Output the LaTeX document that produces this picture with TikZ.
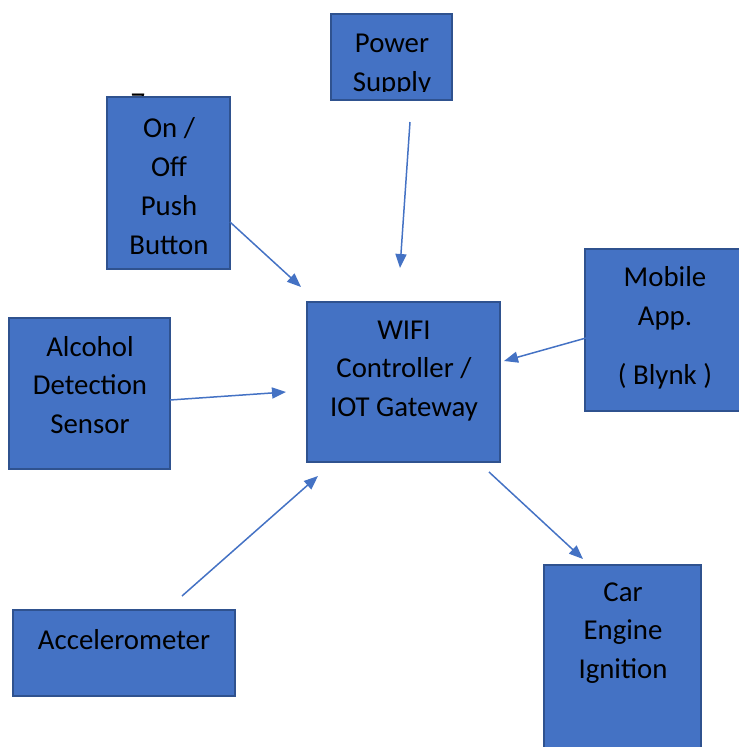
\documentclass[tikz,border=0pt]{standalone}
\usepackage{fontspec}
\setmainfont{Carlito}
\usetikzlibrary{positioning,arrows.meta}
\definecolor{boxblue}{HTML}{4472C4}
\definecolor{boxedge}{HTML}{2F528F}
\tikzset{block node/.style={rectangle,fill=boxblue,draw=boxedge,line width=1.1pt,inner sep=0pt},
	text node/.style={align=center,font=\fontsize{16.4pt}{22.1pt}\selectfont,inner sep=0pt},
	link/.style={color=boxblue,line width=0.85pt,-{Triangle[length=0.28cm,width=0.22cm]}},
}

\begin{document}
\begin{tikzpicture}[x=0.02cm,y=-0.02cm]
	\clip (0,0) rectangle (739,747);
	\node[text node] (seven) at (138,103) {7};
	
	\node[block node,minimum width=2.42cm,minimum height=1.72cm] (power) at (391.5,57) {};
	\begin{scope}
		\clip (331,14) rectangle (452,91);
		\node[text node] (power text) at (392,65) {Power\\Supply};
	\end{scope}
	\node[block node,minimum width=2.46cm,minimum height=3.44cm] (onoff) at (168.5,183) {};
	\node[text node] (onoff text) at (169,186) {On /\\Off\\Push\\Button};
	\node[block node,minimum width=3.22cm,minimum height=3.02cm] (alcohol) at (89.5,393.5) {};
	\node[text node] (alcohol text) at (90,385) {Alcohol\\Detection\\Sensor};
	\node[block node,minimum width=3.86cm,minimum height=3.2cm] (wifi) at (403.5,382) {};
	\node[text node] (wifi text) at (404,371) {WIFI\\Controller /\\IOT Gateway};
	\node[block node,minimum width=3.2cm,minimum height=3.24cm] (mobile) at (665,330) {};
	\node[text node] (mobile text) at (665,328) {Mobile\\App.\\[0.4cm]( Blynk )};
	\node[block node,minimum width=4.44cm,minimum height=1.72cm] (accel) at (124,653) {};
	\node[text node] (accel text) at (124,640) {Accelerometer};
	\node[block node,minimum width=3.14cm,minimum height=4.3cm] (car) at (622.5,672.5) {};
	\node[text node] (car text) at (623,633) {Car\\Engine\\Ignition};
	
	% arrow ends
	\coordinate (p1) at (410,122);
	\coordinate (p2) at (400,268);
	\coordinate (o1) at (230,222);
	\coordinate (o2) at (301,287);
	\coordinate (a1) at (170,400);
	\coordinate (a2) at (286,392);
	\coordinate (m1) at (586,338);
	\coordinate (m2) at (504,361);
	\coordinate (c1) at (182,596);
	\coordinate (c2) at (318,476);
	\coordinate (w1) at (489,472);
	\coordinate (w2) at (583,559);
	
	\path
	(p1) edge[link] (p2)
	(o1) edge[link] (o2)
	(a1) edge[link] (a2)
	(m1) edge[link] (m2)
	(c1) edge[link] (c2)
	(w1) edge[link] (w2)
	;
\end{tikzpicture}
\end{document}
